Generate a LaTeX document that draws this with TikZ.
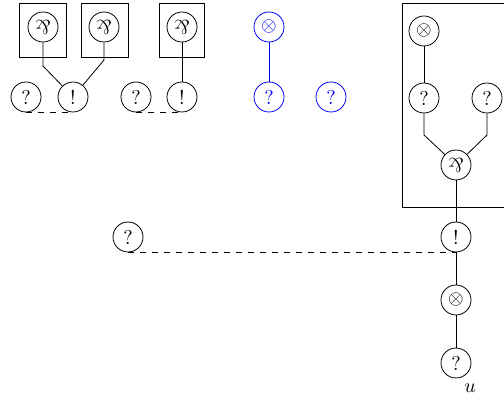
\documentclass[tikz,border=0pt]{standalone}
\usepackage{graphicx}
\newcommand{\parrsym}{\rotatebox[origin=c]{180}{\&}}
\tikzset{
  cell/.style={draw,circle,minimum size=15pt,inner sep=0pt},
  frame/.style={draw},
  cut/.style={dashed}
}
\begin{document}
\begin{tikzpicture}[x=0.5pt,y=-0.5pt]
\useasboundingbox (0,0) rectangle (504,406);
\clip (0,0) rectangle (504,406);
\draw[frame] (19,3) rectangle (66,57);
\draw[frame] (81,3) rectangle (128,57);
\draw[frame] (159,3) rectangle (204,57);
\draw[frame] (402,3) rectangle (520,207);
\node[cell] (par1) at (43,27) {\parrsym};
\node[cell] (par2) at (104,27) {\parrsym};
\node[cell] (par3) at (182,27) {\parrsym};
\node[cell] (q1) at (26,97) {?};
\node[cell] (b1) at (73,97) {!};
\node[cell] (q2) at (136,97) {?};
\node[cell] (b2) at (182,97) {!};
\draw (par1) -- ++(0,39) -- (b1);
\draw (par2) -- ++(0,33) -- (b1);
\draw (par3) -- (b2);
\draw[cut] (q1.south) -- (b1.south);
\draw[cut] (q2.south) -- (b2.south);
\node[cell,blue] (bt) at (269,27) {$\otimes$};
\node[cell,blue] (bq1) at (269,97) {?};
\node[cell,blue] (bq2) at (331,97) {?};
\draw[blue] (bt) -- (bq1);
\node[cell] (rt) at (424,31) {$\otimes$};
\node[cell] (rq1) at (424,98) {?};
\node[cell] (rq2) at (487,98) {?};
\node[cell] (rpar) at (456,165) {\parrsym};
\draw (rt) -- (rq1);
\draw (rq1) -- ++(0,37) -- (rpar);
\draw (rq2) -- ++(0,37) -- (rpar);
\node[cell] (lq) at (128,237) {?};
\node[cell] (ob) at (456,237) {!};
\node[cell] (ot) at (456,300) {$\otimes$};
\node[cell] (oq) at (456,363) {?};
\node (u) at (470,388) {$u$};
\draw (rpar) -- (ob);
\draw (ob) -- (ot);
\draw (ot) -- (oq);
\draw[cut] (lq.south) -- (ob.south);
\end{tikzpicture}
\end{document}
